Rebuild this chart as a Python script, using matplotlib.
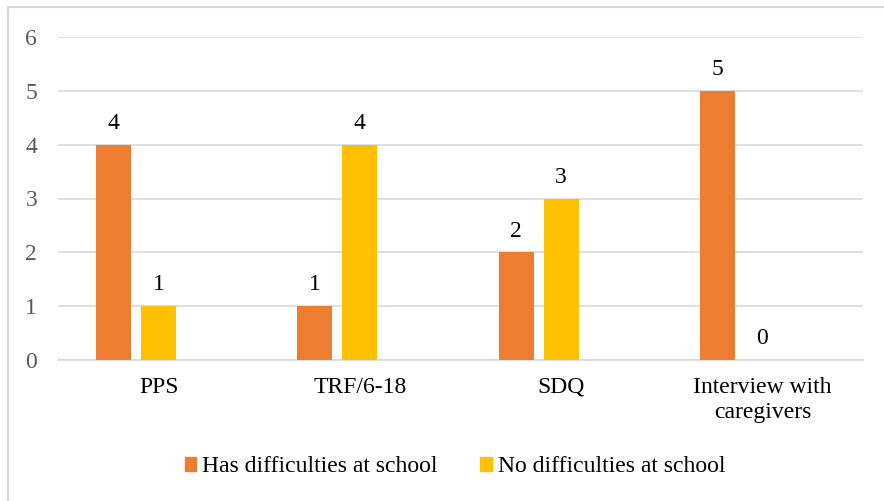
import matplotlib.pyplot as plt
import numpy as np
from matplotlib.lines import Line2D
from matplotlib.patches import Patch

categories = ["PPS", "TRF/6-18", "SDQ", "Interview with\ncaregivers"]
has_difficulties = [4, 1, 2, 5]
no_difficulties = [1, 4, 3, 0]
series_names = ["Has difficulties at school", "No difficulties at school"]
colors = ["#ED7D31", "#FFC000"]

plt.rcParams['font.family'] = ['Liberation Serif', 'DejaVu Serif']
fs = 17

fig = plt.figure(figsize=(8.84, 5.01), dpi=100)
ax = fig.add_axes([58 / 884, 1 - 360 / 501, (863 - 58) / 884, (360 - 37) / 501])

x = np.arange(len(categories))
width = 0.174
ax.bar(x - 0.224, has_difficulties, width, color=colors[0], zorder=3)
ax.bar(x, no_difficulties, width, color=colors[1], zorder=3)

# value labels above the bars
for xi, v in zip(x - 0.224, has_difficulties):
    ax.text(xi, v + 0.2, str(v), ha="center", va="bottom", fontsize=fs)
for xi, v in zip(x, no_difficulties):
    ax.text(xi, v + 0.2, str(v), ha="center", va="bottom", fontsize=fs)

ax.set_xlim(-0.5, 3.5)
ax.set_ylim(0, 6)
ax.set_yticks(range(7))
ax.set_xticks(x)
ax.set_xticklabels([])
for xi, lab in zip(x, categories):
    ax.text(xi, -0.31, lab, ha="center", va="top", fontsize=fs,
            linespacing=1.3)

ax.grid(axis="y", color="#D9D9D9", linewidth=1.2, zorder=0)
for s in ["top", "right", "left"]:
    ax.spines[s].set_visible(False)
ax.spines["bottom"].set_color("#D9D9D9")
ax.spines["bottom"].set_linewidth(1.2)
ax.tick_params(axis="both", length=0, labelsize=fs, labelcolor="#595959")
ax.tick_params(axis="y", pad=15)

# legend
handles = [Patch(color=c) for c in colors]
fig.legend(handles, series_names, loc="center", bbox_to_anchor=(455 / 884, 1 - 467 / 501),
           ncol=2, frameon=False, fontsize=fs, handlelength=0.5, handleheight=0.5,
           handletextpad=0.25, columnspacing=1.8)

# chart area outline (left and top edges)
fig.add_artist(Line2D([8 / 884, 8 / 884], [0, 1 - 7 / 501], color="#D9D9D9", linewidth=1.5))
fig.add_artist(Line2D([8 / 884, 1], [1 - 7 / 501, 1 - 7 / 501], color="#D9D9D9", linewidth=1.5))

fig.savefig("out.png", dpi=100, facecolor="white")
